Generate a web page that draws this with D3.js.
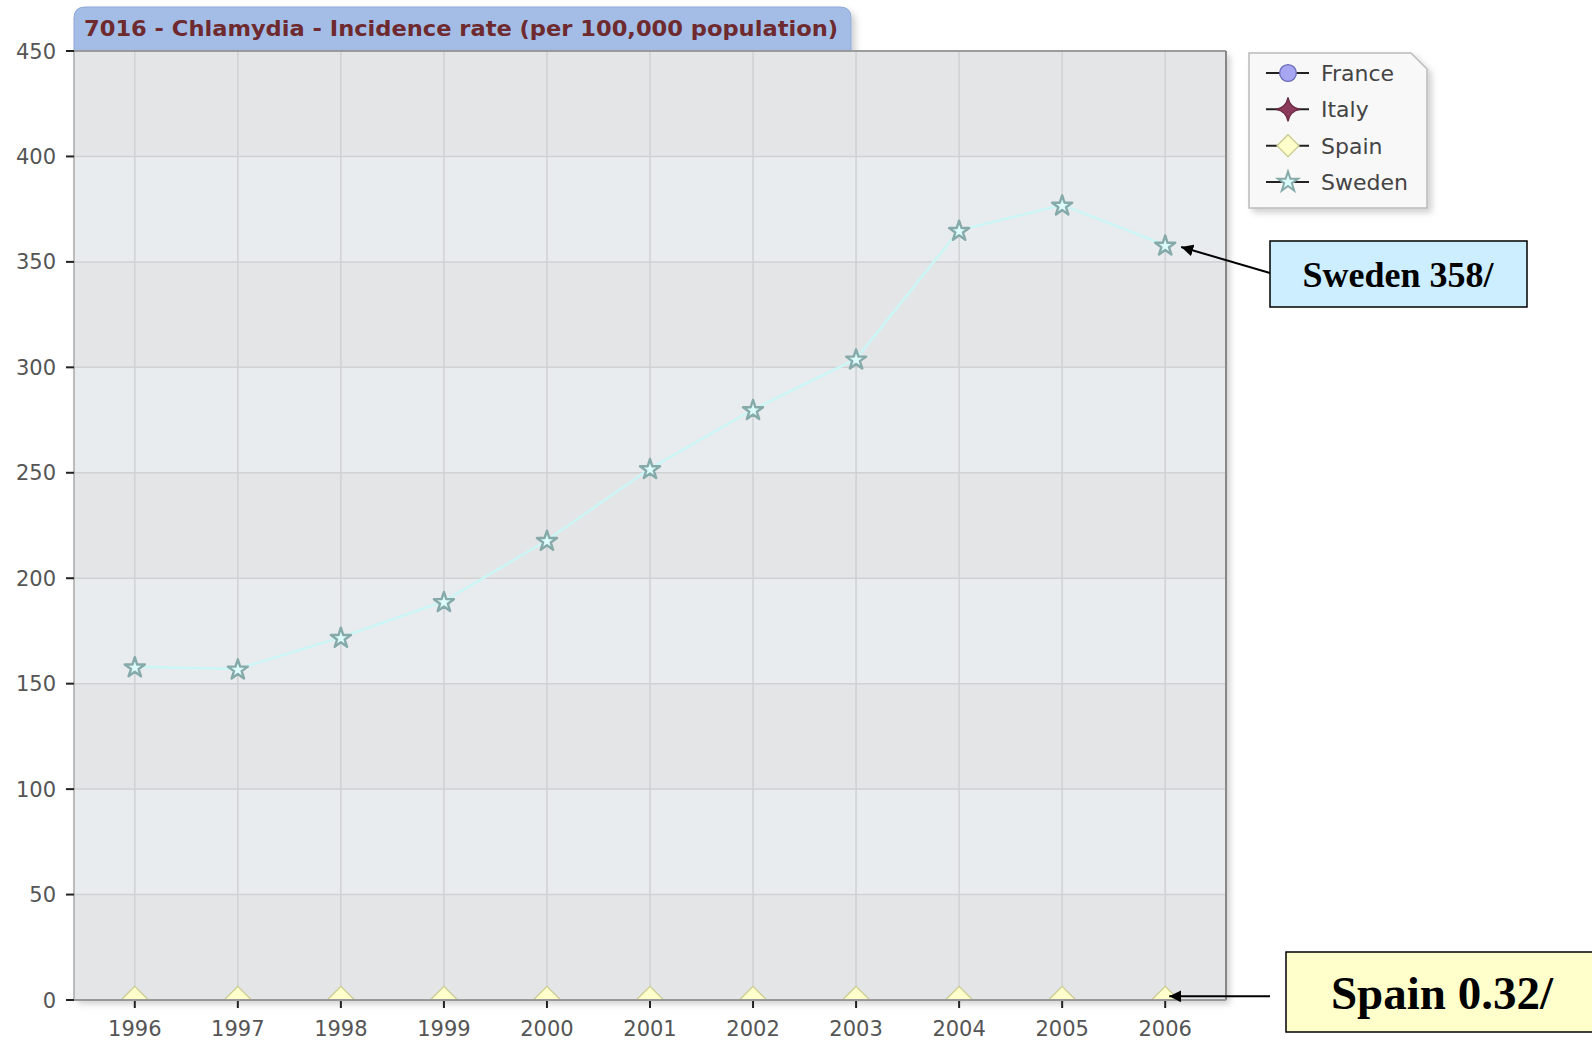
<!DOCTYPE html>
<html lang="en">
<head>
    <meta charset="UTF-8">
    <title>7016 - Chlamydia - Incidence rate</title>
    <style>
        body {
            margin: 0;
            padding: 0;
            background-color: #fff;
            overflow: hidden;
        }

        .tick-label {
            font-family: "DejaVu Sans", Verdana, sans-serif;
            font-size: 21px;
            fill: #555;
        }

        .legend-label {
            font-family: "DejaVu Sans", Verdana, sans-serif;
            font-size: 22px;
            fill: #444;
        }

        .note {
            font-family: "Liberation Serif", "Times New Roman", serif;
            font-weight: bold;
            fill: #000;
        }
    </style>
</head>
<body>
    <div id="chart"></div>

    <script src="https://d3js.org/d3.v7.min.js"></script>
    <script>
        // values
        const years = ["1996", "1997", "1998", "1999", "2000", "2001", "2002", "2003", "2004", "2005", "2006"];
        const swedenValues = [158, 157, 172, 189, 218, 252, 280, 304, 365, 377, 358];
        const spainValues = [0.32, 0.32, 0.32, 0.32, 0.32, 0.32, 0.32, 0.32, 0.32, 0.32, 0.32];
        const yTicks = [0, 50, 100, 150, 200, 250, 300, 350, 400, 450];
        const legendSeries = ["France", "Italy", "Spain", "Sweden"];
        const titleText = "7016 - Chlamydia - Incidence rate (per 100,000 population)";

        const width = 1592;
        const height = 1042;
        const plot = { left: 74, top: 51, right: 1226, bottom: 1000 };

        const svg = d3.select('#chart')
            .append('svg')
            .attr('width', width)
            .attr('height', height);

        const defs = svg.append('defs');
        const shadow = defs.append('filter').attr('id', 'shadow')
            .attr('x', '-5%').attr('y', '-5%').attr('width', '115%').attr('height', '115%');
        shadow.append('feDropShadow')
            .attr('dx', 4).attr('dy', 4).attr('stdDeviation', 3)
            .attr('flood-color', '#000').attr('flood-opacity', 0.18);

        defs.append('clipPath').attr('id', 'plot-clip')
            .append('rect')
            .attr('x', plot.left).attr('y', plot.top)
            .attr('width', plot.right - plot.left).attr('height', plot.bottom - plot.top);

        const x = d3.scalePoint()
            .domain(years)
            .range([plot.left, plot.right])
            .padding(0.59);

        const y = d3.scaleLinear()
            .domain([0, 450])
            .range([plot.bottom, plot.top]);

        // title tab
        const tabL = 74, tabR = 851, tabT = 7, r = 11;
        svg.append('path')
            .attr('d', `M${tabL},${plot.top} L${tabL},${tabT + r} Q${tabL},${tabT} ${tabL + r},${tabT}
                        L${tabR - r},${tabT} Q${tabR},${tabT} ${tabR},${tabT + r} L${tabR},${plot.top} Z`)
            .attr('fill', '#a3bde6')
            .attr('stroke', '#8fa9d6')
            .attr('stroke-width', 1)
            .attr('filter', 'url(#shadow)');

        svg.append('text')
            .attr('x', 84)
            .attr('y', 36)
            .attr('font-family', '"DejaVu Sans", Tahoma, sans-serif')
            .attr('font-weight', 'bold')
            .attr('font-size', 22)
            .attr('fill', '#6e2a2e')
            .attr('textLength', 754)
            .attr('lengthAdjust', 'spacingAndGlyphs')
            .text(titleText);

        // plot background with alternating bands
        svg.append('rect')
            .attr('x', plot.left).attr('y', plot.top)
            .attr('width', plot.right - plot.left).attr('height', plot.bottom - plot.top)
            .attr('fill', '#e4e5e7')
            .attr('filter', 'url(#shadow)');

        const bands = d3.pairs(yTicks).filter((d, i) => i % 2 === 1);
        svg.append('g')
            .selectAll('rect')
            .data(bands)
            .enter().append('rect')
            .attr('x', plot.left)
            .attr('y', d => y(d[1]))
            .attr('width', plot.right - plot.left)
            .attr('height', d => y(d[0]) - y(d[1]))
            .attr('fill', '#e8ecef');

        // grid
        svg.append('g')
            .selectAll('line')
            .data(yTicks)
            .enter().append('line')
            .attr('x1', plot.left).attr('x2', plot.right)
            .attr('y1', d => y(d)).attr('y2', d => y(d))
            .attr('stroke', '#d0d1d3')
            .attr('stroke-width', 1.5);

        svg.append('g')
            .selectAll('line')
            .data(years)
            .enter().append('line')
            .attr('x1', d => x(d)).attr('x2', d => x(d))
            .attr('y1', plot.top).attr('y2', plot.bottom)
            .attr('stroke', '#d0d1d3')
            .attr('stroke-width', 1.5);

        // series
        const sweden = years.map((yr, i) => ({ year: yr, value: swedenValues[i] }));
        const spain = years.map((yr, i) => ({ year: yr, value: spainValues[i] }));

        svg.append('path')
            .datum(sweden)
            .attr('fill', 'none')
            .attr('stroke', '#ccf6f6')
            .attr('stroke-width', 2.5)
            .attr('d', d3.line().x(d => x(d.year)).y(d => y(d.value)));

        const starPath = d3.symbol().type(d3.symbolStar).size(125)();
        const diamondPath = (s) => `M0,${-s} L${s},0 L0,${s} L${-s},0 Z`;
        const fourStar = (s) => `M0,${-s} Q${s * 0.15},${-s * 0.15} ${s},0 Q${s * 0.15},${s * 0.15} 0,${s}
                                 Q${-s * 0.15},${s * 0.15} ${-s},0 Q${-s * 0.15},${-s * 0.15} 0,${-s} Z`;

        // Spain diamonds sit on the zero line, half hidden by the frame
        svg.append('g')
            .attr('clip-path', 'url(#plot-clip)')
            .selectAll('path')
            .data(spain)
            .enter().append('path')
            .attr('transform', d => `translate(${x(d.year)},${y(d.value)})`)
            .attr('d', diamondPath(13))
            .attr('fill', '#ffffcc')
            .attr('stroke', '#c9c98e')
            .attr('stroke-width', 1.2);

        svg.append('g')
            .selectAll('path')
            .data(sweden)
            .enter().append('path')
            .attr('transform', d => `translate(${x(d.year)},${y(d.value) + 1})`)
            .attr('d', starPath)
            .attr('fill', '#dcfcfc')
            .attr('stroke', '#86a9a9')
            .attr('stroke-width', 2.4)
            .attr('stroke-linejoin', 'round');

        // frame
        svg.append('line')
            .attr('x1', plot.left).attr('x2', plot.left)
            .attr('y1', plot.top).attr('y2', plot.bottom)
            .attr('stroke', '#aaa').attr('stroke-width', 1.5);
        svg.append('line')
            .attr('x1', plot.left).attr('x2', plot.right)
            .attr('y1', plot.top).attr('y2', plot.top)
            .attr('stroke', '#888').attr('stroke-width', 1.5);
        svg.append('line')
            .attr('x1', plot.right).attr('x2', plot.right)
            .attr('y1', plot.top).attr('y2', plot.bottom)
            .attr('stroke', '#888').attr('stroke-width', 2);
        svg.append('line')
            .attr('x1', plot.left).attr('x2', plot.right)
            .attr('y1', plot.bottom).attr('y2', plot.bottom)
            .attr('stroke', '#999').attr('stroke-width', 2);

        // axes
        const yAxis = svg.append('g');
        yAxis.selectAll('line')
            .data(yTicks)
            .enter().append('line')
            .attr('x1', plot.left - 8).attr('x2', plot.left)
            .attr('y1', d => y(d)).attr('y2', d => y(d))
            .attr('stroke', '#222').attr('stroke-width', 2);
        yAxis.selectAll('text')
            .data(yTicks)
            .enter().append('text')
            .attr('class', 'tick-label')
            .attr('x', 56)
            .attr('y', d => y(d))
            .attr('dy', '0.36em')
            .attr('text-anchor', 'end')
            .text(d => d);

        const xAxis = svg.append('g');
        xAxis.selectAll('line')
            .data(years)
            .enter().append('line')
            .attr('x1', d => x(d)).attr('x2', d => x(d))
            .attr('y1', plot.bottom + 1).attr('y2', plot.bottom + 8)
            .attr('stroke', '#222').attr('stroke-width', 2);
        xAxis.selectAll('text')
            .data(years)
            .enter().append('text')
            .attr('class', 'tick-label')
            .attr('x', d => x(d))
            .attr('y', 1036)
            .attr('text-anchor', 'middle')
            .text(d => d);

        // legend with folded corner
        const lg = { x: 1249, y: 53, w: 178, h: 155, fold: 16 };
        svg.append('path')
            .attr('d', `M${lg.x},${lg.y} L${lg.x + lg.w - lg.fold},${lg.y} L${lg.x + lg.w},${lg.y + lg.fold}
                        L${lg.x + lg.w},${lg.y + lg.h} L${lg.x},${lg.y + lg.h} Z`)
            .attr('fill', '#f8f8f8')
            .attr('stroke', '#bbb')
            .attr('stroke-width', 1.5)
            .attr('filter', 'url(#shadow)');

        const legendY = d3.scalePoint().domain(legendSeries).range([73, 182]);
        const legendMarks = {
            France: { d: d3.symbol().type(d3.symbolCircle).size(220)(), fill: '#a6a6f2', stroke: '#6a6ab8' },
            Italy: { d: fourStar(12), fill: '#8c3a5c', stroke: '#6a2a45' },
            Spain: { d: diamondPath(11), fill: '#ffffcc', stroke: '#c9c98e' },
            Sweden: { d: starPath, fill: '#dcfcfc', stroke: '#86a9a9' }
        };

        const items = svg.append('g')
            .selectAll('g')
            .data(legendSeries)
            .enter().append('g')
            .attr('transform', d => `translate(0,${legendY(d)})`);
        items.append('line')
            .attr('x1', 1266).attr('x2', 1309)
            .attr('stroke', '#222').attr('stroke-width', 2);
        items.append('path')
            .attr('transform', 'translate(1288,0)')
            .attr('d', d => legendMarks[d].d)
            .attr('fill', d => legendMarks[d].fill)
            .attr('stroke', d => legendMarks[d].stroke)
            .attr('stroke-width', d => d === 'Sweden' ? 2 : 1.3);
        items.append('text')
            .attr('class', 'legend-label')
            .attr('x', 1321)
            .attr('dy', '0.36em')
            .text(d => d);

        // callouts
        defs.append('marker')
            .attr('id', 'arrow')
            .attr('viewBox', '0 0 10 10')
            .attr('refX', 10).attr('refY', 5)
            .attr('markerWidth', 12).attr('markerHeight', 12)
            .attr('markerUnits', 'userSpaceOnUse')
            .attr('orient', 'auto')
            .append('path')
            .attr('d', 'M0,0 L10,5 L0,10 Z')
            .attr('fill', '#000');

        const lastYear = years[years.length - 1];
        const lastSweden = swedenValues[swedenValues.length - 1];
        const lastSpain = spainValues[spainValues.length - 1];

        svg.append('line')
            .attr('x1', 1270).attr('y1', 273)
            .attr('x2', x(lastYear) + 16).attr('y2', y(lastSweden) + 2)
            .attr('stroke', '#000').attr('stroke-width', 2)
            .attr('marker-end', 'url(#arrow)');
        svg.append('rect')
            .attr('x', 1270).attr('y', 241)
            .attr('width', 257).attr('height', 66)
            .attr('fill', '#cdeeff')
            .attr('stroke', '#000').attr('stroke-width', 1.5);
        svg.append('text')
            .attr('class', 'note')
            .attr('x', 1398).attr('y', 274)
            .attr('dy', '0.35em')
            .attr('font-size', 36)
            .attr('text-anchor', 'middle')
            .text(`Sweden ${lastSweden}/`);

        svg.append('line')
            .attr('x1', 1270).attr('y1', y(lastSpain) - 3)
            .attr('x2', x(lastYear) + 4).attr('y2', y(lastSpain) - 3)
            .attr('stroke', '#000').attr('stroke-width', 2)
            .attr('marker-end', 'url(#arrow)');
        svg.append('rect')
            .attr('x', 1286).attr('y', 952)
            .attr('width', 320).attr('height', 80)
            .attr('fill', '#ffffcc')
            .attr('stroke', '#000').attr('stroke-width', 1.5);
        svg.append('text')
            .attr('class', 'note')
            .attr('x', 1442).attr('y', 993)
            .attr('dy', '0.35em')
            .attr('font-size', 47)
            .attr('text-anchor', 'middle')
            .text(`Spain ${lastSpain}/`);
    </script>
</body>
</html>
